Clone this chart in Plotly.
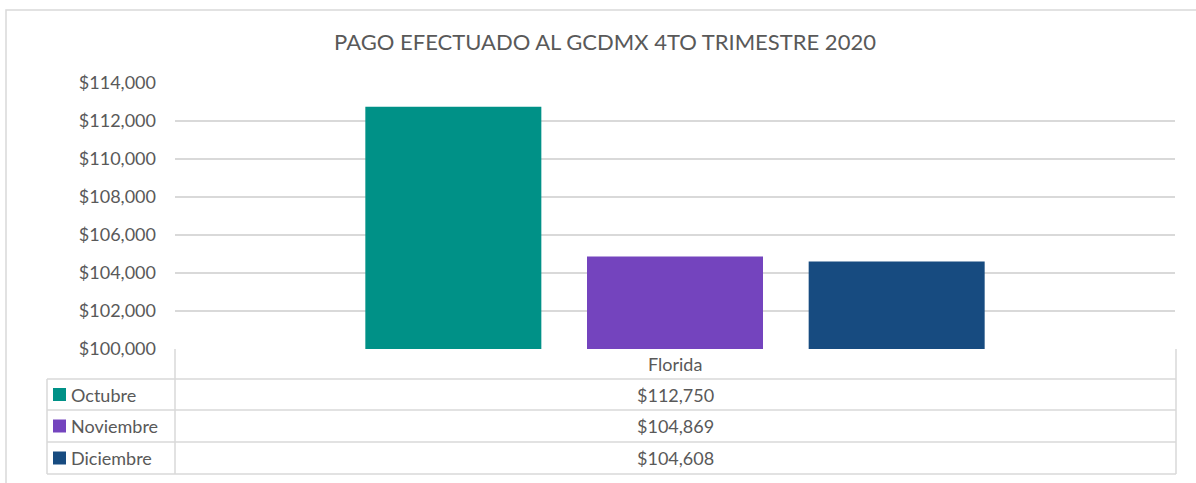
import plotly.graph_objects as go

# ---- data ----
category = ["Florida"]
series_names = ["Octubre", "Noviembre", "Diciembre"]
series_values = [112750, 104869, 104608]
series_colors = ["#009187", "#7444BE", "#174B80"]
y_ticks = [100000, 102000, 104000, 106000, 108000, 110000, 112000, 114000]
y_tick_labels = [f"${v:,.0f}" for v in y_ticks]

W, H = 1196, 483
L, R, T, B = 175, 1175, 83, 349  # plot area in pixels
FONT = "Lato"
TXT = "#595959"
GRID = "#D9D9D9"
FS = 18

def px(x):
    return (x - L) / (R - L)

def py(y):
    return (B - y) / (B - T)

fig = go.Figure()
for name, val, col in zip(series_names, series_values, series_colors):
    fig.add_trace(go.Bar(x=category, y=[val], name=name, marker_color=col,
                         marker_line_width=0))

shapes = []
# outer chart border
shapes.append(dict(type="rect", xref="paper", yref="paper",
                   x0=px(6), x1=px(1215), y0=py(500), y1=py(10),
                   line=dict(color=GRID, width=1.5), layer="below"))
# data table lines
row_lines = [379, 410, 442, 474]
for yy in row_lines:
    shapes.append(dict(type="line", xref="paper", yref="paper",
                       x0=px(47), x1=px(1176), y0=py(yy), y1=py(yy),
                       line=dict(color=GRID, width=1.5)))
shapes.append(dict(type="line", xref="paper", yref="paper",
                   x0=px(47), x1=px(47), y0=py(379), y1=py(474),
                   line=dict(color=GRID, width=1.5)))
for xx in [175, 1176]:
    shapes.append(dict(type="line", xref="paper", yref="paper",
                       x0=px(xx), x1=px(xx), y0=py(349), y1=py(474),
                       line=dict(color=GRID, width=1.5)))

annotations = []
annotations.append(dict(text=category[0], xref="paper", yref="paper",
                        x=px(675), y=py(364), showarrow=False,
                        xanchor="center", yanchor="middle",
                        font=dict(family=FONT, size=FS, color=TXT)))
row_centers = [394.5, 426, 458]
for name, val, col, yc in zip(series_names, series_values, series_colors, row_centers):
    annotations.append(dict(text=f"${val:,.0f}", xref="paper", yref="paper",
                            x=px(675), y=py(yc), showarrow=False,
                            xanchor="center", yanchor="middle",
                            font=dict(family=FONT, size=FS, color=TXT)))
    shapes.append(dict(type="rect", xref="paper", yref="paper",
                       x0=px(53), x1=px(66), y0=py(yc + 6.5), y1=py(yc - 6.5),
                       fillcolor=col, line=dict(width=0)))
    annotations.append(dict(text=name, xref="paper", yref="paper",
                            x=px(69), y=py(yc), showarrow=False,
                            xanchor="left", yanchor="middle",
                            font=dict(family=FONT, size=FS, color=TXT)))

fig.update_layout(
    width=W, height=H,
    margin=dict(l=L, r=W - R, t=T, b=H - B),
    paper_bgcolor="white", plot_bgcolor="white",
    barmode="group", bargap=0.335, bargroupgap=0.206,
    showlegend=False,
    title=dict(text="PAGO EFECTUADO AL GCDMX 4TO TRIMESTRE 2020",
               x=605 / W, y=1 - 42 / H, xanchor="center", yanchor="middle",
               xref="container", yref="container",
               font=dict(family=FONT, size=22, color=TXT)),
    shapes=shapes, annotations=annotations,
    font=dict(family=FONT, color=TXT),
)
fig.update_xaxes(showticklabels=False, showgrid=False, zeroline=False,
                 showline=False, ticks="")
fig.update_yaxes(range=[y_ticks[0], y_ticks[-1]], tickvals=y_ticks,
                 ticktext=y_tick_labels, showgrid=True, gridcolor=GRID,
                 gridwidth=1.5, zeroline=False, showline=False, ticks="",
                 ticklabelstandoff=18,
                 tickfont=dict(family=FONT, size=FS, color=TXT))

fig.write_html("out.html",
               config={"displayModeBar": False},
               post_script="document.body.style.margin='0';document.body.style.overflow='hidden';")
